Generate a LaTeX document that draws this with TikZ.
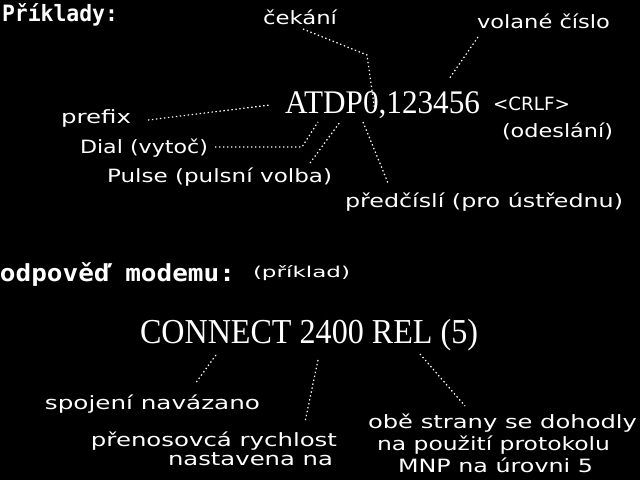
\documentclass[tikz,border=0pt]{standalone}
\usepackage{fontspec}
\usepackage{graphicx}
\setmainfont{DejaVu Sans}
\newfontfamily\headfont{DejaVu Sans Mono}
\newfontfamily\bigfont{Liberation Serif}
\newfontfamily\lblfont{DejaVu Sans}
\newcommand\fitw[2]{\resizebox{#1pt}{\height}{#2}}
\tikzset{
  txt/.style={anchor=base west, inner sep=0pt, outer sep=0pt, text=white},
  lbl/.style={txt, font=\lblfont\fontsize{18.3}{20}\selectfont},
  lblsmall/.style={txt, font=\lblfont\fontsize{15}{17}\selectfont},
  head/.style={txt, font=\headfont\bfseries\fontsize{22.5}{24}\selectfont},
  cmd/.style={txt, font=\bigfont\fontsize{33}{35}\selectfont},
  conn/.style={draw=white, line width=1.2pt, dash pattern=on 1.4pt off 2.6pt}
}
\begin{document}
\begin{tikzpicture}[x=1pt,y=-1pt]
\fill[black] (0,0) rectangle (640,480);
\useasboundingbox (0,0) rectangle (640,480);

% headings
\node[head] (priklady) at (2,21) {\fitw{116}{Příklady:}};
\node[head, font=\headfont\bfseries\fontsize{23.5}{25}\selectfont] (odpoved) at (0,281) {\fitw{235}{odpověď modemu:}};
\node[lblsmall] (priklad) at (253,277) {\fitw{97}{(příklad)}};

% command line
\node[cmd] (atd) at (285,113) {\fitw{195}{ATDP0,123456}};
\node[lbl] (crlf) at (493,110) {\fitw{77}{<CRLF>}};
\node[lbl] (odesl) at (502,137) {\fitw{111}{(odeslání)}};

% labels
\node[lbl] (cekani) at (263,24) {\fitw{74}{čekání}};
\node[lbl] (volane) at (477,28) {\fitw{133}{volané číslo}};
\node[lbl] (prefix) at (61,123) {\fitw{70}{prefix}};
\node[lbl] (dial) at (80,153) {\fitw{128}{Dial (vytoč)}};
\node[lbl] (pulse) at (107,182) {\fitw{225}{Pulse (pulsní volba)}};
\node[lbl] (predc) at (345,207) {\fitw{278}{předčíslí (pro ústřednu)}};

% answer
\node[cmd, font=\bigfont\fontsize{35}{37}\selectfont] (connect) at (140,343) {\fitw{338}{CONNECT 2400 REL (5)}};
\node[lbl] (spojeni) at (45,409) {\fitw{215}{spojení navázano}};
\node[lbl, anchor=base east] (prenosA) at (337,446) {\fitw{246}{přenosovcá rychlost}};
\node[lbl, anchor=base east] (prenosB) at (333,465) {\fitw{165}{nastavena na}};
\node[lbl] (obeA) at (368,428) {\fitw{269}{obě strany se dohodly}};
\node[lbl] (obeB) at (377,450) {\fitw{233}{na použití protokolu}};
\node[lbl] (obeC) at (398,472) {\fitw{195}{MNP na úrovni 5}};

% connector ends
\coordinate (cA) at (303,29);
\coordinate (cB) at (367,55);
\coordinate (cC) at (375,112);
\coordinate (vA) at (478,37);
\coordinate (vB) at (449,79);
\coordinate (pA) at (148,120);
\coordinate (pB) at (270,105);
\coordinate (dA) at (215,147);
\coordinate (dB) at (302,147);
\coordinate (dC) at (318,122);
\coordinate (uA) at (310,163);
\coordinate (uB) at (340,122);
\coordinate (eA) at (363,122);
\coordinate (eB) at (388,183);
\coordinate (sA) at (216,355);
\coordinate (sB) at (195,384);
\coordinate (rA) at (318,360);
\coordinate (rB) at (305,422);
\coordinate (oA) at (420,354);
\coordinate (oB) at (465,406);

\draw[conn] (cA) -- (cB) -- (cC);
\draw[conn] (vA) -- (vB);
\draw[conn] (pA) -- (pB);
\draw[conn] (dA) -- (dB) -- (dC);
\draw[conn] (uA) -- (uB);
\draw[conn] (eA) -- (eB);
\draw[conn] (sA) -- (sB);
\draw[conn] (rA) -- (rB);
\draw[conn] (oA) -- (oB);
\end{tikzpicture}
\end{document}
